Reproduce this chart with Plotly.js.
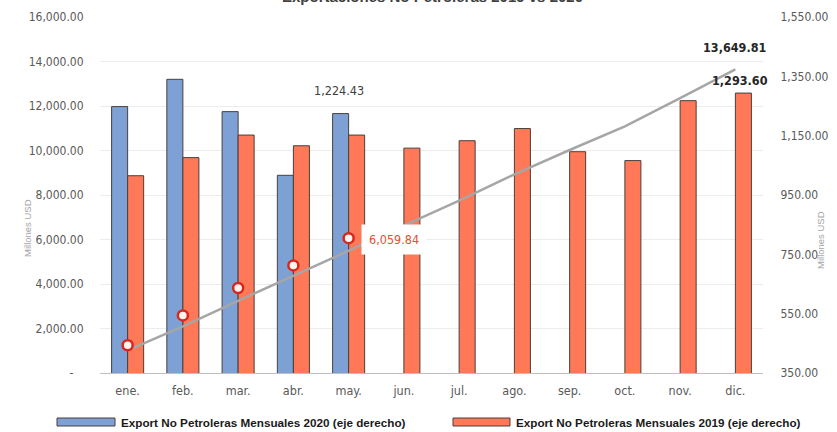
<!DOCTYPE html>
<html>
<head>
<meta charset="utf-8">
<script src="https://cdn.plot.ly/plotly-3.0.1.min.js"></script>
<style>html,body{margin:0;padding:0;background:#fff;}#chart{width:837px;height:432px;}</style>
</head>
<body>
<div id="chart"></div>
<script>
var months = ['ene.','feb.','mar.','abr.','may.','jun.','jul.','ago.','sep.','oct.','nov.','dic.'];
var months2020 = ['ene.','feb.','mar.','abr.','may.'];
var mensual2020 = [1248, 1340, 1231, 1016.41, 1224.43];
var mensual2019 = [1015, 1076, 1152, 1116, 1152, 1108, 1133, 1174, 1096, 1066, 1268, 1293.60];
var acumulado2019 = [1015, 2091, 3243, 4359, 5511, 6619, 7752, 8926, 10022, 11088, 12356, 13649.81];
var acumulado2020 = [1248, 2588, 3819, 4835.41, 6059.84];
var leftTicks = [0, 2000, 4000, 6000, 8000, 10000, 12000, 14000, 16000];
var leftTickText = ['-\u00a0\u00a0\u00a0', '2,000.00', '4,000.00', '6,000.00', '8,000.00', '10,000.00', '12,000.00', '14,000.00', '16,000.00'];
var rightTicks = [350, 550, 750, 950, 1150, 1350, 1550];
var rightTickText = ['350.00', '550.00', '750.00', '950.00', '1,150.00', '1,350.00', '1,550.00'];
var title = 'Exportaciones No Petroleras 2019 vs 2020';
var axisTitle = 'Millones USD';
var name2020 = 'Export No Petroleras Mensuales 2020 (eje derecho)';
var name2019 = 'Export No Petroleras Mensuales 2019 (eje derecho)';

var COND = 'DejaVu Sans Condensed, Liberation Sans Narrow, Arial Narrow, Liberation Sans, Arial, sans-serif';
var SANS = 'Liberation Sans, Arial, sans-serif';
var BLUE = '#7ea1d5', RED = '#ff7857', EDGE = '#4a3f3a';

var traces = [
  {type:'bar', name:name2020, x:months2020, y:mensual2020, yaxis:'y', offsetgroup:'a',
   marker:{color:BLUE, line:{color:EDGE, width:1}}, showlegend:false, hoverinfo:'skip'},
  {type:'bar', name:name2019, x:months, y:mensual2019, yaxis:'y', offsetgroup:'b',
   marker:{color:RED, line:{color:EDGE, width:1}}, showlegend:false, hoverinfo:'skip'},
  {type:'scatter', mode:'lines', x:months, y:acumulado2019, yaxis:'y2',
   line:{color:'#a6a6a6', width:2.5}, showlegend:false, hoverinfo:'skip'},
  {type:'scatter', mode:'markers', x:months2020, y:acumulado2020, yaxis:'y2',
   marker:{symbol:'circle', size:10, color:'#fff5f0', line:{color:'#d9261c', width:2.5}}, showlegend:false, hoverinfo:'skip'}
];

var L = 100, R = 763, T = 17, B = 373;
function px(x){ return (x - L) / (R - L); }
function py(y){ return (B - y) / (B - T); }

var layout = {
  width:837, height:432,
  margin:{l:L, r:837-R, t:T, b:432-B},
  paper_bgcolor:'#ffffff', plot_bgcolor:'#ffffff',
  font:{family:COND, color:'#595959', size:12},
  barmode:'group', bargap:0.42, bargroupgap:0,
  xaxis:{type:'category', categoryarray:months, range:[-0.5, 11.5], showgrid:false, showline:true, linecolor:'#bfbfbf', linewidth:1,
         ticks:'', tickfont:{size:12.5, color:'#595959', family:COND}, ticklabelstandoff:6, zeroline:false},
  yaxis:{side:'right', range:[350,1550], tickvals:rightTicks, ticktext:rightTickText, showgrid:false, zeroline:false,
         ticks:'outside', ticklen:14, tickcolor:'rgba(0,0,0,0)', tickfont:{size:12, color:'#595959', family:COND}},
  yaxis2:{overlaying:'y', side:'left', range:[0,16000], tickvals:leftTicks, ticktext:leftTickText,
          showgrid:true, gridcolor:'#ececec', gridwidth:1, zeroline:false,
          ticks:'outside', ticklen:13, tickcolor:'rgba(0,0,0,0)', tickfont:{size:12, color:'#595959', family:COND}},
  shapes:[
    {type:'rect', xref:'paper', yref:'paper', x0:px(57), x1:px(115), y0:py(426), y1:py(418), fillcolor:BLUE, line:{color:EDGE, width:1}},
    {type:'rect', xref:'paper', yref:'paper', x0:px(453), x1:px(510), y0:py(426), y1:py(418), fillcolor:RED, line:{color:EDGE, width:1}}
  ],
  annotations:[
    {xref:'paper', yref:'paper', x:px(432), y:py(-4), xanchor:'center', yanchor:'middle', showarrow:false,
     text:'<b>'+title+'</b>', font:{size:15, color:'#404040', family:SANS}},
    {xref:'paper', yref:'paper', x:px(27), y:py(228), xanchor:'center', yanchor:'middle', showarrow:false, textangle:-90,
     text:axisTitle, font:{size:9.5, color:'#a6a6a6', family:SANS}},
    {xref:'paper', yref:'paper', x:px(821), y:py(240), xanchor:'center', yanchor:'middle', showarrow:false, textangle:-90,
     text:axisTitle, font:{size:9.5, color:'#a6a6a6', family:SANS}},
    {xref:'paper', yref:'paper', x:px(119), y:py(422), xanchor:'left', yanchor:'middle', showarrow:false,
     text:'<b>'+name2020+'</b>', font:{size:11.7, color:'#1a1a1a', family:SANS}},
    {xref:'paper', yref:'paper', x:px(514), y:py(422), xanchor:'left', yanchor:'middle', showarrow:false,
     text:'<b>'+name2019+'</b>', font:{size:11.7, color:'#1a1a1a', family:SANS}},
    {x:'may.', y:mensual2020[4], xref:'x', yref:'y', showarrow:false, xshift:-10, yshift:23,
     text:'1,224.43', font:{size:12.5, color:'#404040', family:COND}},
    {x:'dic.', y:mensual2019[11], xref:'x', yref:'y', showarrow:false, xshift:5, yshift:13,
     text:'<b>1,293.60</b>', font:{size:12.5, color:'#262626', family:COND}},
    {x:'dic.', y:acumulado2019[11], xref:'x', yref:'y2', showarrow:false, xshift:-1, yshift:22,
     text:'<b>13,649.81</b>', font:{size:12.5, color:'#262626', family:COND}},
    {x:'may.', y:acumulado2020[4], xref:'x', yref:'y2', showarrow:false, xanchor:'left', xshift:12, yshift:-1,
     text:'6,059.84', font:{size:12.5, color:'#e2502f', family:COND}, bgcolor:'#ffffff', borderpad:7}
  ]
};

Plotly.newPlot('chart', traces, layout, {staticPlot:true, displayModeBar:false});
</script>
</body>
</html>
